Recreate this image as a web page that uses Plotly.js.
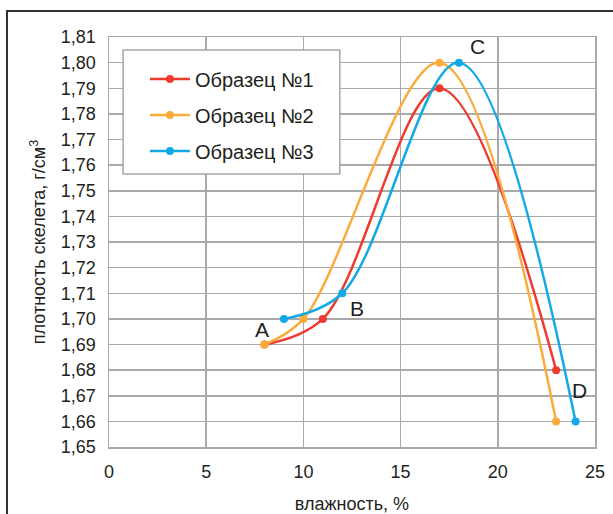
<!DOCTYPE html>
<html>
<head>
<meta charset="utf-8">
<script src="https://cdn.plot.ly/plotly-3.0.1.min.js"></script>
<style>
  html, body { margin: 0; padding: 0; background: #fff; }
  #wrap { position: relative; width: 613px; height: 514px; overflow: hidden; }
  #chart { width: 613px; height: 514px; }
  #frame { position: absolute; left: 6px; top: 10px; width: 640px; height: 540px;
           border-left: 2px solid #333; border-top: 2px solid #333; pointer-events: none; }
</style>
</head>
<body>
<div id="wrap">
  <div id="chart"></div>
  <div id="frame"></div>
</div>
<script>
// Data
const seriesNames = ["Образец №1", "Образец №2", "Образец №3"];
const x1 = [8, 11, 17, 23];
const y1 = [1.69, 1.70, 1.79, 1.68];
const x2 = [8, 10, 17, 23];
const y2 = [1.69, 1.70, 1.80, 1.66];
const x3 = [9, 12, 18, 24];
const y3 = [1.70, 1.71, 1.80, 1.66];
const colors = ["#ee3a2f", "#fbab3a", "#12aae6"];

const pointLabels = ["A", "B", "C", "D"];
const labelX = [7.85, 12.75, 18.95, 24.2];
const labelY = [1.6958, 1.7042, 1.8062, 1.672];

const xs = [x1, x2, x3], ys = [y1, y2, y3];
const traces = xs.map((xv, i) => ({
  x: xv, y: ys[i], name: seriesNames[i], type: "scatter", mode: "lines+markers",
  line: { color: colors[i], width: 2.5, shape: "spline", smoothing: 1 },
  marker: { color: colors[i], size: 8 },
  legendgroup: "g" + i
}));

const gridColor = "#a9a9a9";
const layout = {
  width: 613, height: 514,
  margin: { l: 109, r: 18, t: 37, b: 67 },
  paper_bgcolor: "#fff", plot_bgcolor: "#fff",
  font: { family: "Liberation Sans, Arial, sans-serif", color: "#231f20", size: 18 },
  separators: ",.",
  showlegend: true,
  legend: {
    x: 0.074, y: 0.945, xanchor: "left", yanchor: "top",
    bgcolor: "rgba(0,0,0,0)", borderwidth: 0,
    font: { size: 20, color: "#231f20" },
    tracegroupgap: 7, traceorder: "grouped", itemwidth: 40
  },
  shapes: [{
    type: "rect", xref: "paper", yref: "paper",
    x0: 0.029, x1: 0.475, y0: 0.666, y1: 0.968,
    fillcolor: "#fff", line: { color: "#a6a6a6", width: 1.5 }, layer: "above"
  }],
  xaxis: {
    range: [0, 25], dtick: 5, tick0: 0, showgrid: true, gridcolor: gridColor, gridwidth: 1.5,
    zeroline: false, showline: true, linecolor: gridColor, linewidth: 1.5, mirror: true,
    ticks: "", tickfont: { size: 18 }, ticklabelstandoff: 8, fixedrange: true,
    title: { text: "влажность, %", font: { size: 18 }, standoff: 19 }
  },
  yaxis: {
    range: [1.65, 1.81], dtick: 0.01, tick0: 1.65, tickformat: ".2f",
    showgrid: true, gridcolor: gridColor, gridwidth: 1.5,
    zeroline: false, showline: true, linecolor: gridColor, linewidth: 1.5, mirror: true,
    ticks: "", tickfont: { size: 18 }, ticklabelstandoff: 8, fixedrange: true,
    title: { text: "плотность скелета, г/см<sup>3</sup>", font: { size: 18 }, standoff: 10 }
  },
  annotations: pointLabels.map((t, i) => ({
    x: labelX[i], y: labelY[i], xref: "x", yref: "y", text: t, showarrow: false,
    font: { size: 21, color: "#231f20" }
  }))
};

Plotly.newPlot("chart", traces, layout, { displayModeBar: false, staticPlot: true });
</script>
</body>
</html>
